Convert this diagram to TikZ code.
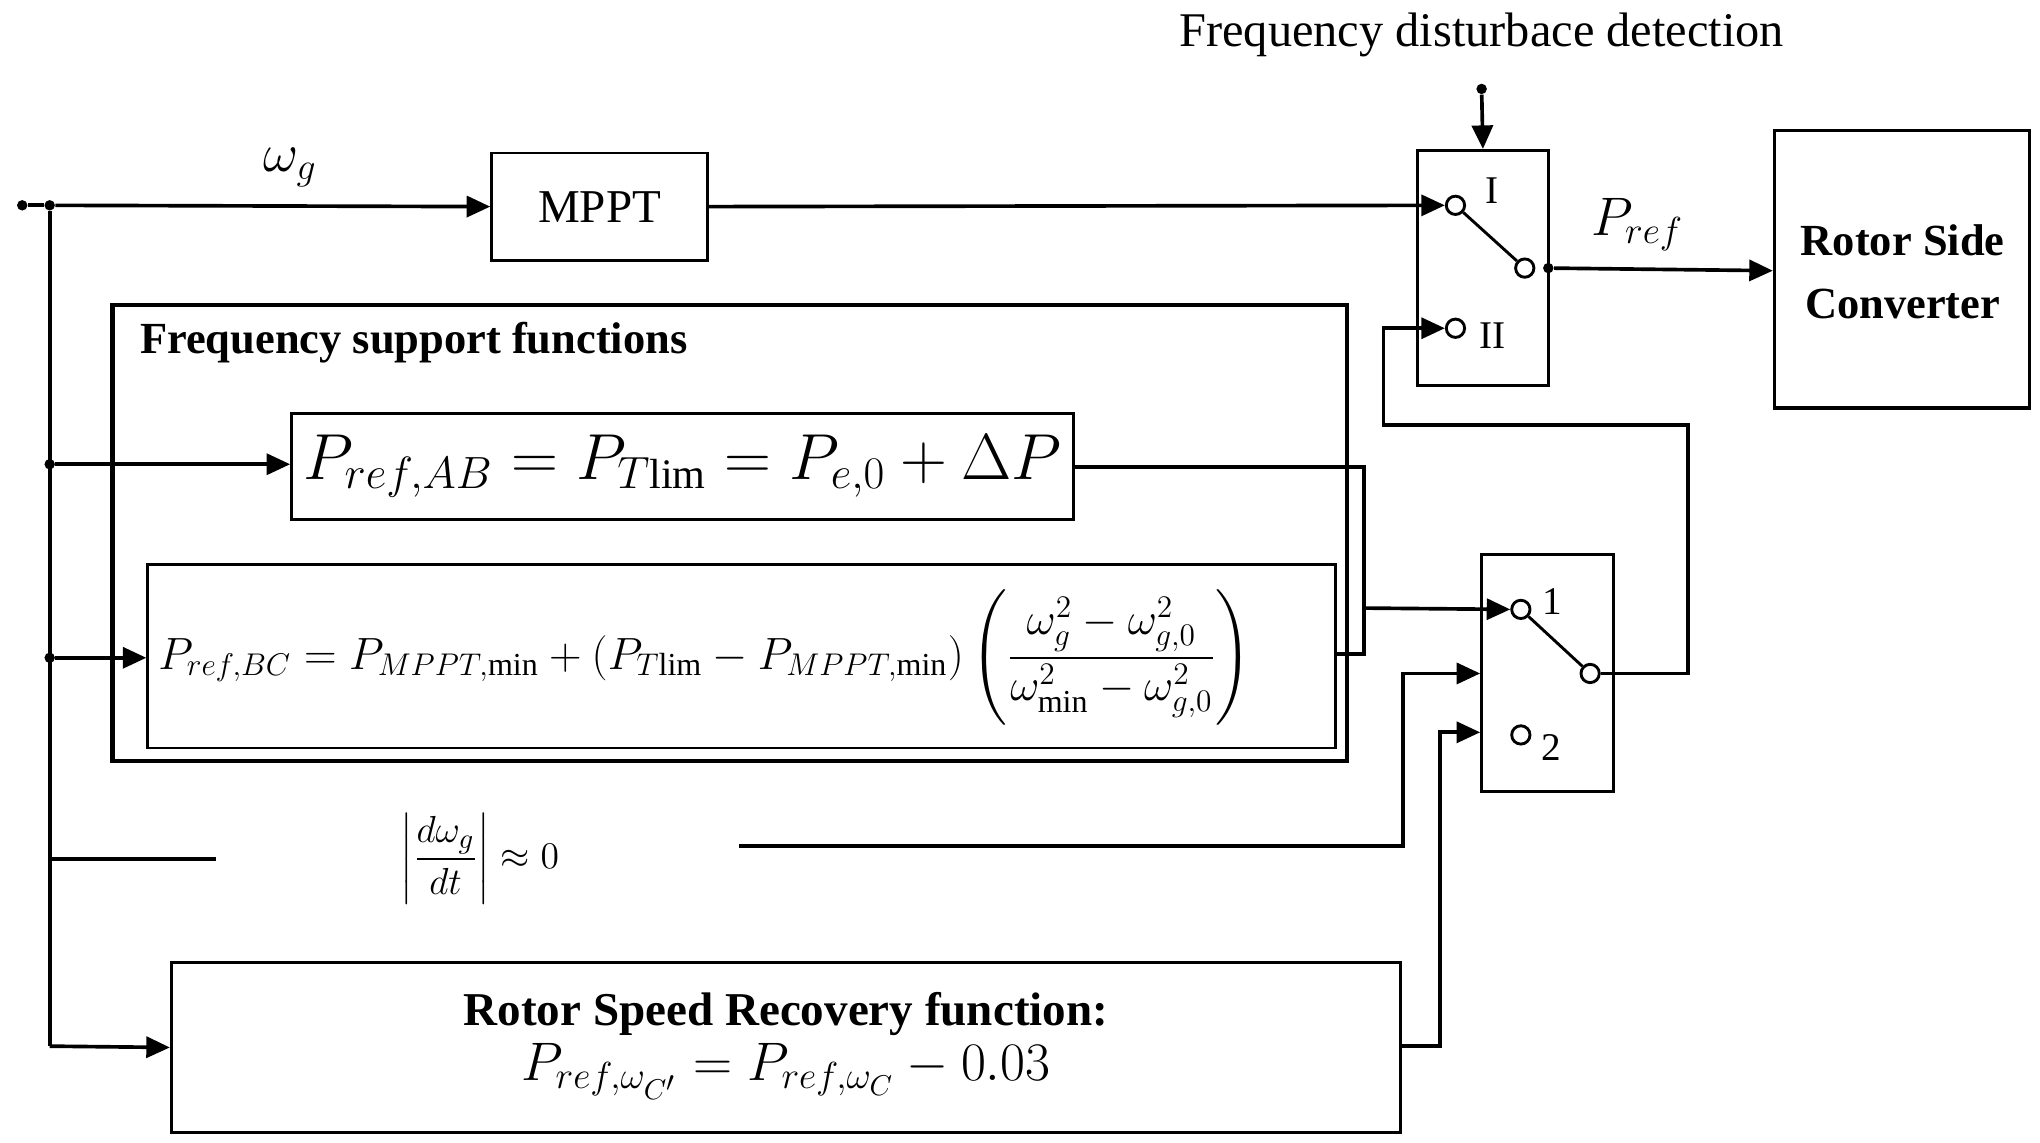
\documentclass[tikz,border=0pt]{standalone}
\usepackage{amsmath}
\usepackage{fontspec}
\setmainfont{Liberation Serif}
\usetikzlibrary{arrows.meta}
\begin{document}
\begin{tikzpicture}[x=0.5pt,y=-0.5pt,
  box/.style={draw,line width=1.1pt,inner sep=0pt},
  wire/.style={line width=1.4pt},
  arr/.style={wire,-{Triangle[length=9pt,width=8pt]}},
  ct/.style={circle,draw,line width=1.1pt,minimum size=7pt,inner sep=0pt},
  dot/.style={circle,fill,inner sep=0pt,minimum size=4pt}]
\useasboundingbox (0,0) rectangle (1560,874);
% boxes
\node[box,minimum width=82.5pt,minimum height=41pt] (mppt) at (458.5,158) {\fontsize{18}{20}\selectfont MPPT};
\node[box,minimum width=50pt,minimum height=90pt] (s1) at (1134,205) {};
\node[box,line width=1.3pt,minimum width=97.5pt,minimum height=106pt] (rsc) at (1454.5,206) {};
\node[align=center,font=\fontsize{17}{24}\selectfont\bfseries] at (1455,208) {Rotor Side\\Converter};
\node[box,line width=1.6pt,minimum width=472pt,minimum height=174.5pt] (fsf) at (558,407.5) {};
\node[anchor=west,font=\fontsize{17}{20}\selectfont\bfseries] at (100,262) {Frequency support functions};
\node[box,minimum width=299pt,minimum height=40.5pt] (ab) at (522,356.5) {\fontsize{23}{26}\selectfont$P_{ref,AB}=P_{T\mathrm{lim}}=P_{e,0}+\Delta P$};
\node[box,minimum width=454pt,minimum height=70pt] (bc) at (567,502) {};
\node[anchor=west] at (114,503) {\fontsize{17.5}{20}\selectfont$P_{ref,BC}=P_{MPPT,\min}+(P_{T\mathrm{lim}}-P_{MPPT,\min})\left(\dfrac{\omega_g^2-\omega_{g,0}^2}{\omega_{\min}^2-\omega_{g,0}^2}\right)$};
\node[box,minimum width=50.5pt,minimum height=90.5pt] (s2) at (1183.5,514.5) {};
\node[box,minimum width=470pt,minimum height=65pt] (rsr) at (601,801) {};
\node[align=center] at (601,800) {{\fontsize{18}{20}\selectfont\bfseries Rotor Speed Recovery function:}\\[2pt]{\fontsize{22.5}{25}\selectfont$P_{ref,\omega_{C'}}=P_{ref,\omega_C}-0.03$}};
\node (dw) at (367,657) {\fontsize{15}{18}\selectfont$\left|\dfrac{d\omega_g}{dt}\right|\approx 0$};
% texts
\node at (1133,27) {\fontsize{18.5}{22}\selectfont Frequency disturbace detection};
\node at (222,128) {\fontsize{20}{22}\selectfont$\omega_g$};
\node at (1252,172) {\fontsize{22}{24}\selectfont$P_{ref}$};
% switch 1
\node[ct] (s1a) at (1113,157) {};
\node[ct] (s1b) at (1113,251) {};
\node[ct] (s1o) at (1166,205) {};
\draw[line width=1.1pt] (s1a) -- (s1o);
\node at (1141,146) {\fontsize{15}{17}\selectfont I};
\node at (1141,257) {\fontsize{15}{17}\selectfont II};
% switch 2
\node[ct] (s2a) at (1163,466) {};
\node[ct] (s2b) at (1163,562) {};
\node[ct] (s2o) at (1216,515) {};
\draw[line width=1.1pt] (s2a) -- (s2o);
\node at (1187,460) {\fontsize{15}{17}\selectfont 1};
\node at (1186,572) {\fontsize{15}{17}\selectfont 2};
% coordinates
\node[dot] (in) at (17,157) {};
\node[dot] (j0) at (38,157) {};
\node[dot] (j1) at (38,355) {};
\node[dot] (j2) at (38,503) {};
\coordinate (jb) at (38,800);
\coordinate (stub) at (165,657);
\coordinate (j3) at (38,657);
\node[dot] (fdd) at (1133,68) {};
\node[dot] (s1out) at (1184,205) {};
\coordinate (lin) at (565,647);
% wires
\draw[wire] (in) -- (j0) -- (jb);
\draw[arr] (j0) -- (mppt.west);
\draw[arr] (mppt.east) -- (s1a.west);
\draw[arr] (fdd) -- (s1.north);
\draw[arr] (s1out) -- (rsc.west |- 0,207);
\draw[arr] (j1) -- (ab.west |- j1);
\draw[arr] (j2) -- (bc.west |- j2);
\draw[arr] (jb) -- (rsr.west);
\draw[wire] (j3) -- (stub);
\draw[wire] (ab.east |- 0,357) -- (1043,357) -- (1043,500) -- (bc.east |- 0,500);
\draw[arr] (1043,465) -- (s2a.west);
\draw[arr] (s2o.east) -- (1291,515) -- (1291,325) -- (1058,325) -- (1058,251) -- (s1b.west);
\draw[arr] (lin) -- (1073,647) -- (1073,515) -- (s2.west |- 0,515);
\draw[arr] (rsr.east |- 0,800) -- (1101,800) -- (1101,560) -- (s2.west |- 0,560);
\end{tikzpicture}
\end{document}
